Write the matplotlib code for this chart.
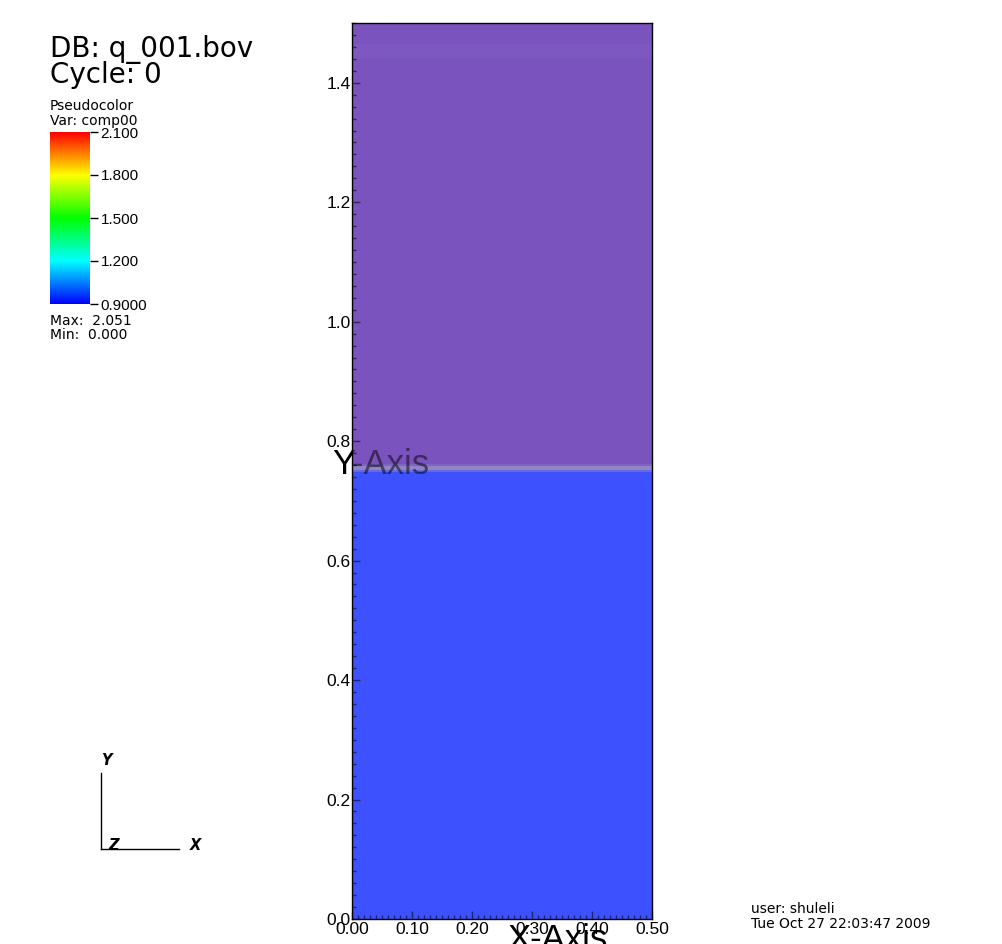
import matplotlib
matplotlib.use("Agg")
import matplotlib.pyplot as plt
import numpy as np
from matplotlib.colors import LinearSegmentedColormap, ListedColormap, BoundaryNorm, Normalize
from matplotlib.cm import ScalarMappable
from matplotlib.lines import Line2D

W, H = 1003, 944

# field profile along y (uniform in x)
prof_y = [0.0, 0.749, 0.752, 0.758, 0.762, 1.44, 1.465, 1.5]
prof_val = [1.0, 1.3, 1.6, 1.9, 2.0, 2.1, 2.0]
field_bounds = [0.9, 1.2, 1.5, 1.8, 1.95, 2.05, 2.2]
field_colors = ['#3d52fe', '#6a6ad8', '#8f84c6', '#8064c0', '#7b53be', '#7d58c0']

x_ticks = [0.0, 0.1, 0.2, 0.3, 0.4, 0.5]
y_ticks = [0.0, 0.2, 0.4, 0.6, 0.8, 1.0, 1.2, 1.4]

cbar_ticks = [2.1, 1.8, 1.5, 1.2, 0.9]
cbar_labels = ['2.100', '1.800', '1.500', '1.200', '0.9000']
var_max = 2.051
var_min = 0.000


def fx(px):
    return px / W


def fy(py):
    return 1 - py / H


fig = plt.figure(figsize=(W / 100, H / 100), dpi=100)

ax = fig.add_axes([fx(352), fy(919), 300 / W, 896 / H])
ax.set_zorder(1)

cmap_field = ListedColormap(field_colors)
norm_field = BoundaryNorm(field_bounds, cmap_field.N)
C = np.array(prof_val).reshape(-1, 1)
ax.pcolormesh([0.0, 0.5], prof_y, C, cmap=cmap_field, norm=norm_field, shading='flat')

ax.set_xlim(0, 0.5)
ax.set_ylim(0, 1.5)
ax.set_xticks(x_ticks)
ax.set_xticklabels(['%.2f' % v for v in x_ticks])
ax.set_yticks(y_ticks)
ax.set_yticklabels(['%.1f' % v for v in y_ticks])
ax.set_xticks(np.arange(0, 0.5001, 0.01), minor=True)
ax.set_yticks(np.arange(0, 1.5001, 0.02), minor=True)
ax.tick_params(which='both', direction='in', color=(0, 0, 0, 0.55), width=1)
ax.tick_params(which='major', length=5.6)
ax.tick_params(which='minor', length=2.8)
ax.tick_params(axis='y', pad=0.8)
ax.tick_params(axis='x', pad=2.0)
for lab in ax.get_xticklabels() + ax.get_yticklabels():
    lab.set_family('Liberation Sans')
    lab.set_fontsize(12.5)
for sp in ax.spines.values():
    sp.set_linewidth(1)

# axis titles (Y label sits partly over the plot, seen through it)
fig.text(fx(332), fy(474), 'Y-Axis', fontsize=25, family='Liberation Sans',
         color='black', zorder=-1, va='baseline')
ax.text(fx(332), fy(474), 'Y-Axis', fontsize=25, family='Liberation Sans',
        color='black', alpha=0.5, transform=fig.transFigure, clip_on=True, va='baseline')
fig.text(fx(557), fy(949), 'X-Axis', fontsize=25, family='Liberation Sans',
         color='black', ha='center', va='baseline', zorder=5)

# header text
fig.text(fx(50), fy(57.5), 'DB: q_001.bov', fontsize=20, va='baseline')
fig.text(fx(50), fy(83), 'Cycle: 0', fontsize=20, va='baseline')
fig.text(fx(50), fy(110), 'Pseudocolor', fontsize=10, va='baseline')
fig.text(fx(50), fy(125.5), 'Var: comp00', fontsize=10, va='baseline')
fig.text(fx(50), fy(325), 'Max:  %.3f' % var_max, fontsize=10, va='baseline')
fig.text(fx(50), fy(338.5), 'Min:  %.3f' % var_min, fontsize=10, va='baseline')

# colorbar
hot = LinearSegmentedColormap.from_list(
    'visit_hot', ['#0000ff', '#00ffff', '#00ff00', '#ffff00', '#ff0000'])
cax = fig.add_axes([fx(50), fy(304), 40 / W, 172 / H])
cb = fig.colorbar(ScalarMappable(norm=Normalize(0.9, 2.1), cmap=hot), cax=cax, ticks=cbar_ticks)
cb.set_ticklabels(cbar_labels)
cb.outline.set_visible(False)
cax.tick_params(length=6, width=1, pad=1.5, color='black')
for lab in cax.get_yticklabels():
    lab.set_family('Liberation Sans')
    lab.set_fontsize(11)

# axes triad
fig.add_artist(Line2D([fx(100.5), fx(100.5)], [fy(773), fy(849)], color='black', lw=1))
fig.add_artist(Line2D([fx(100.5), fx(179)], [fy(849), fy(849)], color='black', lw=1))
fig.text(fx(101), fy(765), 'Y', fontsize=10.5, fontweight='bold', style='italic', va='baseline')
fig.text(fx(108), fy(849.5), 'Z', fontsize=10.5, fontweight='bold', style='italic', va='baseline')
fig.text(fx(190), fy(850), 'X', fontsize=10.5, fontweight='bold', style='italic', va='baseline')

# user / date
fig.text(fx(751), fy(912.7), 'user: shuleli', fontsize=10, va='baseline')
fig.text(fx(751), fy(927.7), 'Tue Oct 27 22:03:47 2009', fontsize=10, va='baseline')

plt.savefig('out.png', dpi=100)
